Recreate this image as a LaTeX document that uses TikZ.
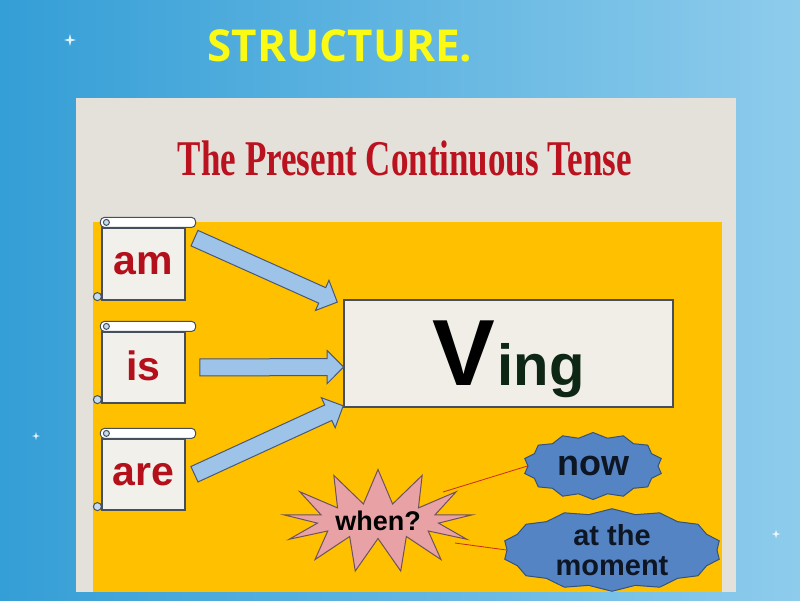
\documentclass[tikz,border=0pt]{standalone}
\usepackage{fontspec}
\setmainfont{Liberation Sans}
\newfontfamily\headfont{Open Sans}
\newfontfamily\titlefont{Liberation Serif}
\usetikzlibrary{shapes.arrows,shapes.symbols,shapes.geometric,calc}
\definecolor{bgleft}{RGB}{52,158,214}
\definecolor{bgright}{RGB}{142,204,236}
\definecolor{panelgray}{RGB}{228,225,218}
\definecolor{panelorange}{RGB}{255,192,0}
\definecolor{headyellow}{RGB}{250,250,20}
\definecolor{titlered}{RGB}{186,18,30}
\definecolor{wordred}{RGB}{180,16,28}
\definecolor{scrollfill}{RGB}{242,240,234}
\definecolor{scrollline}{RGB}{70,80,92}
\definecolor{arrowblue}{RGB}{157,195,232}
\definecolor{arrowline}{RGB}{72,88,118}
\definecolor{vingfill}{RGB}{240,238,231}
\definecolor{inggreen}{RGB}{14,38,20}
\definecolor{starpink}{RGB}{232,162,166}
\definecolor{starline}{RGB}{112,82,92}
\definecolor{blobblue}{RGB}{84,132,196}
\definecolor{blobline}{RGB}{52,82,124}
\definecolor{blobtext}{RGB}{14,22,36}
\definecolor{linered}{RGB}{200,40,30}
\begin{document}
\begin{tikzpicture}[x=1pt,y=-1pt,
  scroll/.style={draw=scrollline,fill=scrollfill,line width=1.2pt,minimum width=83pt,minimum height=72pt,inner sep=0pt,text=wordred,font=\bfseries\fontsize{41}{45}\selectfont},
  scrollbar/.style={draw=scrollline,fill=white,line width=1pt,rounded corners=4pt},
  scrollcurl/.style={draw=scrollline,fill=arrowblue!60!white,line width=1pt},
  bluearrow/.style={single arrow,draw=arrowline,fill=arrowblue,line width=1pt,inner sep=8pt,single arrow head extend=8pt},
  blob/.style={starburst,starburst points=14,starburst point height=5pt,random starburst=0,fill=blobblue,draw=blobline,line width=1pt,text=blobtext,inner sep=0pt},
  sparkle/.style={star,star points=4,star point ratio=3.5,fill=white,opacity=.85,minimum size=12pt,inner sep=0pt},
  redline/.style={draw=linered,line width=.8pt}]
\useasboundingbox (0,0) rectangle (800,600);
\shade[left color=bgleft,right color=bgright] (0,0) rectangle (800,600);
\node[sparkle] (spark1) at (70,40) {};
\node[sparkle,minimum size=8pt] (spark2) at (36,436) {};
\node[sparkle,minimum size=9pt] (spark3) at (776,534) {};
\fill[panelgray] (76,98) rectangle (736,592);
\fill[panelorange] (93,222) rectangle (722,592);

\node[text=headyellow,font=\headfont\bfseries\fontsize{44}{44}\selectfont] (structure) at (340,46) {STRUCTURE.};
\node[text=titlered,font=\titlefont\bfseries\fontsize{50}{50}\selectfont,xscale=.7] (tense) at (405,158) {The Present Continuous Tense};

% scrolls
\node[scroll] (am) at (143.5,264) {am};
\node[scroll,minimum height=71pt,text depth=4pt] (is) at (143.5,367.5) {is};
\node[scroll,minimum height=71pt] (are) at (143.5,474.5) {are};
\foreach \n in {am,is,are}{
  \draw[scrollbar] ([xshift=-1pt]\n.north west) rectangle ([shift={(10,-10)}]\n.north east);
  \draw[scrollcurl] ([shift={(5,-5)}]\n.north west) circle (3pt);
  \draw[scrollcurl] ([shift={(-4,-4)}]\n.south west) circle (4pt);
}

\node[draw=scrollline,fill=vingfill,line width=1.2pt,minimum width=329pt,minimum height=107pt,text depth=0pt,font=\bfseries] (ving) at (508.5,353.5)
  {{\fontsize{94}{94}\selectfont V}\hspace{3pt}{\color{inggreen}\fontsize{58}{58}\selectfont ing}};

% arrows
\coordinate (am-out) at ([shift={(5,9)}]am.north east);
\coordinate (is-out) at ([shift={(10,0)}]is.east);
\coordinate (are-out) at ([shift={(5,1.5)}]are.east);
\coordinate (v-top) at ([shift={(-10,1)}]ving.north west);
\coordinate (v-mid) at ([shift={(-4,13.5)}]ving.west);
\coordinate (v-low) at ([shift={(-4,0)}]ving.south west);
\foreach \a/\b in {am-out/v-top,is-out/v-mid,are-out/v-low}
  \path let \p1=($(\b)-(\a)$) in node[bluearrow,minimum height={veclen(\x1,\y1)},rotate={atan2(\y1,\x1)}] at ($(\a)!.5!(\b)$) {};

% when
\node[starburst,starburst points=13,starburst point height=34pt,random starburst=0,fill=starpink,draw=starline,line width=1pt,minimum width=190pt,minimum height=103pt,inner sep=0pt,font=\bfseries\fontsize{27}{27}\selectfont] (when) at (378,521) {when?};
\node[blob,minimum width=140pt,minimum height=67pt,font=\bfseries\fontsize{36}{36}\selectfont] (now) at (593,466) {now};
\node[blob,minimum width=220pt,minimum height=65pt,align=center,font=\bfseries\fontsize{29}{30}\selectfont] (moment) at (612,550) {at the\\moment};
\coordinate (when-up) at ([shift={(65,-29)}]when.center);
\coordinate (when-dn) at ([shift={(77,22)}]when.center);
\draw[redline] (when-up) -- (now.west);
\draw[redline] (when-dn) -- (moment.west);
\end{tikzpicture}
\end{document}
